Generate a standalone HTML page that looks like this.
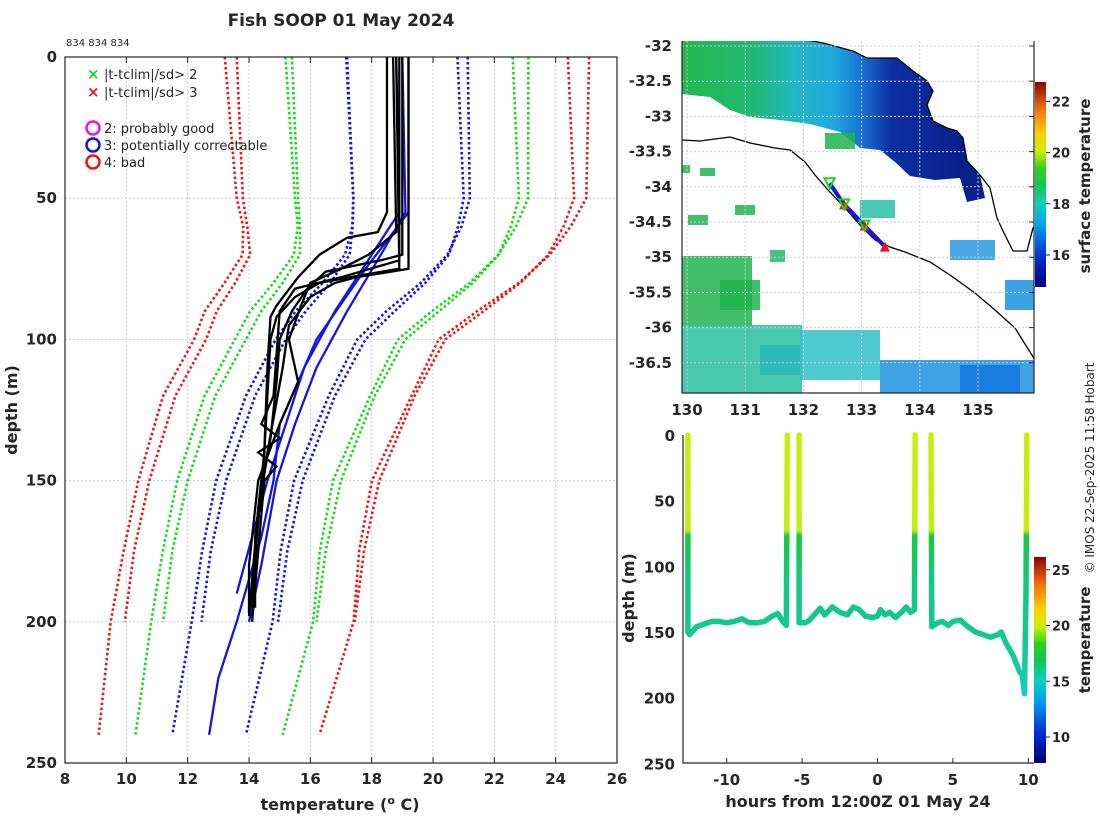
<!DOCTYPE html>
<html><head><meta charset="utf-8">
<style>
body{margin:0;background:#fff;}
svg text{font-family:"DejaVu Sans","Liberation Sans",sans-serif;fill:#262626;}
.tk{font-size:15px;font-weight:bold;}
</style></head>
<body>
<svg id="c" width="1100" height="820" viewBox="0 0 1100 820" xmlns="http://www.w3.org/2000/svg">
<defs>
<linearGradient id="bandG" x1="682" y1="0" x2="960" y2="0" gradientUnits="userSpaceOnUse">
<stop offset="0" stop-color="#22b850"/><stop offset="0.25" stop-color="#22b870"/><stop offset="0.4" stop-color="#22b8c0"/><stop offset="0.55" stop-color="#20a8e0"/><stop offset="0.65" stop-color="#1670d0"/><stop offset="0.75" stop-color="#0c30a0"/><stop offset="1" stop-color="#08208c"/>
</linearGradient>
<linearGradient id="jet" x1="0" y1="1" x2="0" y2="0">
<stop offset="0" stop-color="#00007f"/><stop offset="0.15" stop-color="#0030d0"/><stop offset="0.3" stop-color="#00a0f0"/><stop offset="0.4" stop-color="#10d0c0"/><stop offset="0.5" stop-color="#10c850"/><stop offset="0.58" stop-color="#30d020"/><stop offset="0.66" stop-color="#c8f000"/><stop offset="0.75" stop-color="#ffd000"/><stop offset="0.87" stop-color="#f07010"/><stop offset="1" stop-color="#900000"/>
</linearGradient>
<linearGradient id="traceG" x1="0" y1="435" x2="0" y2="700" gradientUnits="userSpaceOnUse">
<stop offset="0" stop-color="#c8ee10"/><stop offset="0.36" stop-color="#c0ee10"/><stop offset="0.38" stop-color="#18c840"/><stop offset="0.55" stop-color="#14c880"/><stop offset="0.8" stop-color="#14c896"/><stop offset="1" stop-color="#14d0c0"/>
</linearGradient>
</defs>
<g id="main"></g>
<g id="map"></g>
<g id="ts"></g>
<text x="341" y="26" text-anchor="middle" style="font-size:17px;font-weight:bold">Fish SOOP 01 May 2024</text>
<text x="66" y="46" style="font-size:10px">834 834 834</text>
<text transform="translate(17,410) rotate(-90)" text-anchor="middle" style="font-size:16px;font-weight:bold">depth (m)</text>
<text x="340" y="810" text-anchor="middle" style="font-size:16px;font-weight:bold">temperature (<tspan dy="-6" style="font-size:11px">o</tspan><tspan dy="6"> C)</tspan></text>
<text x="858" y="807" text-anchor="middle" style="font-size:16px;font-weight:bold">hours from 12:00Z 01 May 24</text>
<text transform="translate(634,598) rotate(-90)" text-anchor="middle" style="font-size:16px;font-weight:bold">depth (m)</text>
<text transform="translate(1090,186) rotate(-90)" text-anchor="middle" style="font-size:15px;font-weight:bold">surface temperature</text>
<text transform="translate(1090,640) rotate(-90)" text-anchor="middle" style="font-size:15px;font-weight:bold">temperature</text>
<text transform="translate(1094,468) rotate(-90)" text-anchor="middle" style="font-size:12px">© IMOS 22-Sep-2025 11:58 Hobart</text>
</svg>
<script>
// ===== main profile chart data =====
const depthTicks=[0,50,100,150,200,250];
const tempTicks=[8,10,12,14,16,18,20,22,24,26];
const climDepthA=[0,50,60,70,80,90,100,120,150,175,200,240];
const climMeanA=[19.15,19.3,19.15,18.8,18.0,17.0,16.2,15.25,14.2,13.75,13.45,12.7];
const climSdA=[1.98,1.9,1.78,1.67,1.6,1.48,1.33,1.35,1.27,1.28,1.32,1.2];
const climDepthB=[0,50,60,70,80,90,100,120,150,175,200];
const climMeanB=[19.0,19.2,19.1,18.9,18.2,17.3,16.5,15.5,14.5,14.0,13.7];
const climSdB=[1.8,1.8,1.72,1.62,1.55,1.45,1.3,1.3,1.25,1.25,1.25];
const sdMults=[1,2,3];
const black1D=[0,55,62,64,70,78,88,92,110,140,160,195];
const black1T=[18.5,18.5,18.2,17.2,16.3,15.6,14.9,14.7,14.6,14.5,14.3,14.1];
const black2D=[0,75,77,80,85,92,100,140,190];
const black2T=[18.8,18.9,17.8,16.3,15.5,14.9,14.7,14.5,14.1];
const black3D=[0,70,72,76,82,90,100,115,135,160,198];
const black3T=[19.0,19.0,18.3,16.5,15.9,15.4,15.0,14.9,14.7,14.3,14.0];
const black4D=[0,75,78,80,85,95,110,140,170,195];
const black4T=[19.2,19.2,17.5,16.8,16.0,15.3,15.1,14.6,14.2,14.2];
const black5D=[0,62,70,75,80,88,100,115,130,150,180,197];
const black5T=[18.7,18.8,17.9,17.0,16.0,15.7,15.3,15.6,15.0,14.3,14.0,14.0];
const black6D=[0,72,78,82,90,120,130,135,140,145,150,175,200];
const black6T=[18.9,18.9,17.0,15.5,15.0,14.8,14.4,15.0,14.3,14.9,14.5,14.3,14.1];
const blue1D=[0,55,70,90,110,130,150,170,190];
const blue1T=[18.8,18.9,18.0,16.8,15.8,15.2,14.6,14.1,13.6];
const blue2D=[0,55,70,90,110,130,150,180,200];
const blue2T=[19.0,19.1,18.3,17.2,16.2,15.5,14.9,14.4,14.0];
const blue3D=[0,55,75,100,130,150,170,200,220,240];
const blue3T=[19.2,19.2,17.8,16.2,15.0,14.8,14.4,13.6,13.0,12.7];
// ===== time series data =====
const tsDepthTicks=[0,50,100,150,200,250];
const tsTimeTicks=[-10,-5,0,5,10];
const cast1T=[-12.57,-12.57,-12.45,-12.0,-11.5,-11.0,-10.5,-10.0,-9.5,-9.0,-8.5,-8.0,-7.5,-7.0,-6.6,-6.3,-6.05,-5.98];
const cast1D=[0,150,152,146,144,142,142,143,142,140,143,143,142,138,136,142,145,0];
const cast2T=[-5.2,-5.2,-4.8,-4.5,-4.2,-3.8,-3.5,-3.0,-2.5,-2.0,-1.6,-1.2,-0.8,-0.3,0,0.2,0.5,0.8,1.2,1.5,1.9,2.2,2.45,2.5];
const cast2D=[0,143,143,141,137,132,137,131,135,137,131,133,138,139,138,133,137,135,139,136,131,135,133,0];
const cast3T=[3.55,3.6,4.0,4.3,4.7,5.0,5.5,6.0,6.5,7.0,7.5,8.0,8.2,8.5,9.0,9.4,9.6,9.75,9.85,9.9];
const cast3D=[0,146,143,142,145,142,141,146,150,152,154,152,150,158,168,180,183,197,120,0];
// ===== map data =====
const lonTicks=[130,131,132,133,134,135];
const latTicks=[-32,-32.5,-33,-33.5,-34,-34.5,-35,-35.5,-36,-36.5];
const trackLon=[132.45,132.7,133.05,133.4];
const trackLat=[-33.95,-34.25,-34.55,-34.85];
const sstTicks=[16,18,20,22];
const tempCbTicks=[10,15,20,25];

const NS='http://www.w3.org/2000/svg';
function mk(parent,tag,attrs){const e=document.createElementNS(NS,tag);for(const k in attrs)e.setAttribute(k,attrs[k]);parent.appendChild(e);return e;}

// ----- main chart -----
const M={l:65,r:617,t:57,b:763};
const xT=t=>M.l+(t-8)/(26-8)*(M.r-M.l);
const yD=d=>M.t+d/250*(M.b-M.t);
const main=document.getElementById('main');
tempTicks.forEach(t=>{
  const g=mk(main,'line',{x1:xT(t),x2:xT(t),y1:M.t,y2:M.b,stroke:'#c4cde6','stroke-width':1,'stroke-dasharray':'2,2'});
  
  
  const tk=mk(main,'line',{x1:xT(t),x2:xT(t),y1:M.t,y2:M.t+6,stroke:'#262626'});
  
  
  const tb=mk(main,'line',{x1:xT(t),x2:xT(t),y1:M.b,y2:M.b-6,stroke:'#262626'});
  
  
  const lb=mk(main,'text',{x:xT(t),y:M.b+21,'text-anchor':'middle',class:'tk'});lb.textContent=t;
  
  
});
depthTicks.forEach(d=>{
  const g=mk(main,'line',{x1:M.l,x2:M.r,y1:yD(d),y2:yD(d),stroke:'#c4cde6','stroke-width':1,'stroke-dasharray':'2,2'});
  
  
  const lb=mk(main,'text',{x:M.l-8,y:yD(d)+5,'text-anchor':'end',class:'tk'});lb.textContent=d;
  
  
});
function profPath(T,D){return T.map((t,i)=>(i?'L':'M')+xT(t).toFixed(1)+','+yD(D[i]).toFixed(1)).join('');}
const climColors=['#1414e6','#14dc14','#ee1414'];
[[climDepthA,climMeanA,climSdA],[climDepthB,climMeanB,climSdB]].forEach(([D,Mn,S])=>{
  sdMults.forEach((k,ci)=>{
    [-1,1].forEach(sg=>{
      const T=Mn.map((m,i)=>m+sg*k*S[i]);
      const p=mk(main,'path',{d:profPath(T,D),fill:'none',stroke:climColors[ci],'stroke-width':2.6,'stroke-dasharray':'2.5,2.5'});
      
      
    });
  });
});
[[blue1T,blue1D],[blue2T,blue2D],[blue3T,blue3D]].forEach(([T,D])=>{
  const p=mk(main,'path',{d:profPath(T,D),fill:'none',stroke:'#1414e6','stroke-width':2.3});
  
  
});
[[black1T,black1D],[black2T,black2D],[black3T,black3D],[black4T,black4D],[black5T,black5D],[black6T,black6D]].forEach(([T,D])=>{
  const p=mk(main,'path',{d:profPath(T,D),fill:'none',stroke:'#000','stroke-width':2.3});
  
  
});
const box=mk(main,'rect',{x:M.l,y:M.t,width:M.r-M.l,height:M.b-M.t,fill:'none',stroke:'#262626','stroke-width':1.2});


// legend
const leg=mk(main,'g',{});


[['#14dc14','|t-tclim|/sd> 2',74],['#ee1414','|t-tclim|/sd> 3',92]].forEach(([c,s,y])=>{
  const m=mk(leg,'text',{x:87,y:y+5,style:'font-size:15px;font-weight:bold;fill:'+c});m.textContent='×';
  
  
  const t=mk(leg,'text',{x:104,y:y+5,style:'font-size:13px'});t.textContent=s;
  
  
});
[['#e614e6','2: probably good',128],['#1414e6','3: potentially correctable',145],['#ee1414','4: bad',162]].forEach(([c,s,y])=>{
  const m=mk(leg,'circle',{cx:93,cy:y,r:6.5,fill:'none',stroke:c,'stroke-width':2.5});
  
  
  const t=mk(leg,'text',{x:104,y:y+5,style:'font-size:13px'});t.textContent=s;
  
  
});

// ----- map -----
const P={l:682,r:1034,t:41,b:393};
const xL=l=>687+(l-130)*58.2;
const yL=a=>46+(-32-a)*70.4;
const map=document.getElementById('map');
const clipG=mk(map,'clipPath',{id:'mapclip'});mk(clipG,'rect',{x:P.l,y:P.t,width:P.r-P.l,height:P.b-P.t});
const mg=mk(map,'g',{'clip-path':'url(#mapclip)'});


const band=mk(mg,'polygon',{fill:'url(#bandG)',points:'682,40 807,40 823,43 853,51 867,58 897,58 913,71 927,81 933,91 927,105 933,121 947,128 957,131 963,138 967,161 980,175 985,198 967,202 960,178 935,180 910,176 895,162 880,150 860,148 840,132 810,124 780,120 750,117 730,110 710,97 682,94'});


const patches=[[682,256,70,70,'#22b450'],[720,280,40,30,'#20b450'],[682,325,120,68,'#28c0a0'],[760,345,40,30,'#26b8b8'],[800,330,80,50,'#30c0c8'],[880,360,155,33,'#2090e0'],[960,365,60,28,'#1478e0'],[860,200,35,18,'#28c0a8'],[1005,280,30,30,'#1a90e0'],[950,240,45,20,'#2898e0'],[682,165,8,8,'#22b450'],[700,168,15,8,'#22b450'],[735,205,20,10,'#22b450'],[688,215,20,10,'#22b450'],[825,133,30,16,'#22b450'],[770,250,15,12,'#20b870']];
patches.forEach(p=>{
  const r=mk(mg,'rect',{x:p[0],y:p[1],width:p[2],height:p[3],fill:p[4],opacity:0.85});
  
  
});
const coast=mk(mg,'polyline',{fill:'none',stroke:'#000','stroke-width':1.3,points:'807,40 823,43 853,51 867,58 897,58 913,71 927,81 933,91 927,105 933,121 947,128 957,131 963,138 967,161 980,175 990,188 997,218 1003,231 1013,251 1027,251 1033,228 1040,225'});


const iso=mk(mg,'polyline',{fill:'none',stroke:'#000','stroke-width':1.3,points:'682,140 700,141 715,139 730,137 750,143 775,148 790,150 805,162 815,175 828,190 845,208 860,225 875,240 890,247 905,252 930,262 950,275 975,293 995,310 1015,328 1030,352 1035,360'});


lonTicks.forEach(l=>{
  const g=mk(map,'line',{x1:xL(l),x2:xL(l),y1:P.t,y2:P.b,stroke:'#c4cde6','stroke-dasharray':'2,2'});
  
  
  const lb=mk(map,'text',{x:xL(l),y:P.b+22,'text-anchor':'middle',class:'tk'});lb.textContent=l;
  
  
});
latTicks.forEach(a=>{
  const g=mk(map,'line',{x1:P.l,x2:P.r,y1:yL(a),y2:yL(a),stroke:'#c4cde6','stroke-dasharray':'2,2'});
  
  
  const tk=mk(map,'line',{x1:P.r,x2:P.r-5,y1:yL(a),y2:yL(a),stroke:'#262626'});
  
  
  const lb=mk(map,'text',{x:P.l-10,y:yL(a)+5,'text-anchor':'end',class:'tk'});lb.textContent=a;
  
  
});
const trk=mk(map,'polyline',{fill:'none',stroke:'#1414e6','stroke-width':4,points:trackLon.map((l,i)=>xL(l)+','+yL(trackLat[i])).join(' ')});


trackLon.forEach((l,i)=>{
  const x=xL(l),y=yL(trackLat[i]);
  if(i>0){const t=mk(map,'polygon',{points:`${x-5},${y+5} ${x+5},${y+5} ${x},${y-5}`,fill:'#ee1414'});
  
  }
  if(i<3){const v=mk(map,'polygon',{points:`${x-5},${y-5} ${x+5},${y-5} ${x},${y+5}`,fill:'none',stroke:'#14dc14','stroke-width':2});
  
  }
});
const mAx=mk(map,'polyline',{fill:'none',stroke:'#262626','stroke-width':1.2,points:`${P.l},${P.t} ${P.l},${P.b} ${P.r},${P.b} ${P.r},${P.t}`});


// sst colorbar
const cb1=mk(map,'rect',{x:1035,y:82,width:11,height:205,fill:'url(#jet)'});


sstTicks.forEach(v=>{
  const y=255-(v-16)*25.6;
  const tk=mk(map,'line',{x1:1046,x2:1050,y1:y,y2:y,stroke:'#262626'});
  
  
  const lb=mk(map,'text',{x:1052,y:y+5,style:'font-size:13px;font-weight:bold'});lb.textContent=v;
  
  
});

// ----- time series -----
const Q={l:683,r:1034,t:435,b:763};
const xH=h=>877.5+h*15.08;
const yM=d=>435+d*1.313;
const ts=document.getElementById('ts');
[[cast1T,cast1D],[cast2T,cast2D],[cast3T,cast3D]].forEach(([T,D])=>{
  const p=mk(ts,'path',{d:T.map((t,i)=>(i?'L':'M')+xH(t).toFixed(1)+','+yM(D[i]).toFixed(1)).join(''),fill:'none',stroke:'url(#traceG)','stroke-width':5.5,'stroke-linejoin':'round','stroke-linecap':'round'});
  
  
});
const tsAx=mk(ts,'polyline',{fill:'none',stroke:'#262626','stroke-width':1.2,points:`${Q.l},${Q.t} ${Q.l},${Q.b} ${Q.r},${Q.b}`});


tsTimeTicks.forEach(h=>{
  const tk=mk(ts,'line',{x1:xH(h),x2:xH(h),y1:Q.b,y2:Q.b-5,stroke:'#262626'});
  
  
  const lb=mk(ts,'text',{x:xH(h),y:Q.b+22,'text-anchor':'middle',class:'tk'});lb.textContent=h;
  
  
});
tsDepthTicks.forEach(d=>{
  const lb=mk(ts,'text',{x:Q.l-8,y:yM(d)+6,'text-anchor':'end',class:'tk'});lb.textContent=d;
  
  
});
const cb2=mk(ts,'rect',{x:1034,y:557,width:12,height:206,fill:'url(#jet)'});


tempCbTicks.forEach(v=>{
  const y=737-(v-10)*11.15;
  const tk=mk(ts,'line',{x1:1046,x2:1050,y1:y,y2:y,stroke:'#262626'});
  
  
  const lb=mk(ts,'text',{x:1052,y:y+5,style:'font-size:13px;font-weight:bold'});lb.textContent=v;
  
  
});
</script>
</body></html>
